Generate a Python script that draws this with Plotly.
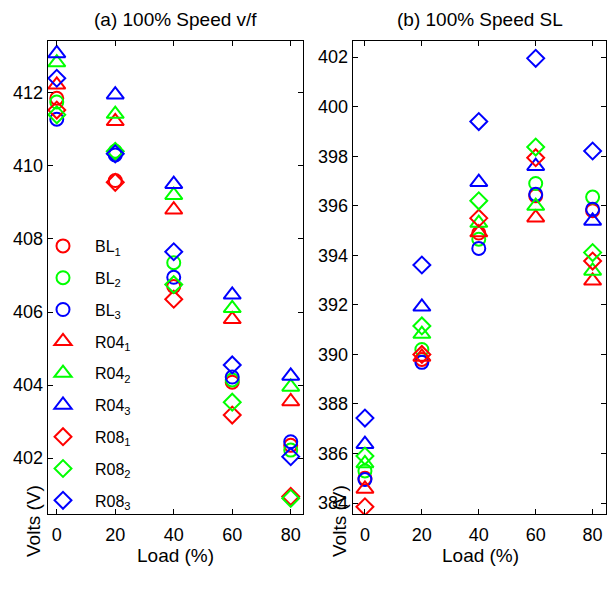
import plotly.graph_objects as go

load = [0, 20, 40, 60, 80]

# (a) 100% Speed v/f
BL1_vf = [411.85, 409.60, 406.70, 404.08, 402.35]
BL2_vf = [411.75, 410.40, 407.35, 404.14, 402.22]
BL3_vf = [411.28, 410.30, 406.95, 404.22, 402.45]
R04_1_vf = [412.22, 411.22, 408.80, 405.80, 403.55]
R04_2_vf = [412.83, 411.42, 409.20, 406.10, 403.95]
R04_3_vf = [413.08, 411.95, 409.50, 406.47, 404.25]
R08_1_vf = [411.53, 409.55, 406.35, 403.18, 400.95]
R08_2_vf = [411.40, 410.40, 406.75, 403.53, 400.90]
R08_3_vf = [412.40, 410.33, 407.65, 404.55, 402.04]

# (b) 100% Speed SL
BL1_sl = [385.00, 389.80, 394.90, 396.40, 395.80]
BL2_sl = [385.30, 390.20, 394.65, 396.90, 396.35]
BL3_sl = [384.95, 389.68, 394.28, 396.46, 395.86]
R04_1_sl = [384.57, 389.90, 394.92, 395.52, 392.97]
R04_2_sl = [385.60, 390.82, 395.30, 395.99, 393.37]
R04_3_sl = [386.38, 391.92, 396.95, 397.60, 395.39]
R08_1_sl = [383.85, 390.00, 395.50, 397.94, 393.77]
R08_2_sl = [385.90, 391.15, 396.20, 398.37, 394.11]
R08_3_sl = [387.43, 393.61, 399.40, 401.95, 398.21]

series_names = ["BL<sub>1</sub>", "BL<sub>2</sub>", "BL<sub>3</sub>",
                "R04<sub>1</sub>", "R04<sub>2</sub>", "R04<sub>3</sub>",
                "R08<sub>1</sub>", "R08<sub>2</sub>", "R08<sub>3</sub>"]
vf_values = [BL1_vf, BL2_vf, BL3_vf, R04_1_vf, R04_2_vf, R04_3_vf, R08_1_vf, R08_2_vf, R08_3_vf]
sl_values = [BL1_sl, BL2_sl, BL3_sl, R04_1_sl, R04_2_sl, R04_3_sl, R08_1_sl, R08_2_sl, R08_3_sl]

colors = ["#FF0000", "#00FF00", "#0000FF"] * 3
symbols = ["circle-open"] * 3 + ["triangle-up-open"] * 3 + ["diamond-open"] * 3
sizes = [13] * 3 + [15] * 3 + [13] * 3

FONT = "Liberation Sans, Arial, Helvetica, sans-serif"

fig = go.Figure()
for i in range(9):
    fig.add_trace(go.Scatter(
        x=load, y=vf_values[i], mode="markers", name=series_names[i],
        legendgroup=f"g{i}",
        marker=dict(symbol=symbols[i], size=sizes[i], color=colors[i],
                    line=dict(width=2, color=colors[i])),
        xaxis="x", yaxis="y", showlegend=True))
for i in range(9):
    fig.add_trace(go.Scatter(
        x=load, y=sl_values[i], mode="markers", name=series_names[i],
        legendgroup=f"g{i}",
        marker=dict(symbol=symbols[i], size=sizes[i], color=colors[i],
                    line=dict(width=2, color=colors[i])),
        xaxis="x2", yaxis="y2", showlegend=False))

W, H = 610, 596
ax_common = dict(showline=True, linecolor="black", linewidth=1, mirror="allticks",
                 ticks="inside", ticklen=5, tickcolor="black", tickwidth=1,
                 showgrid=False, zeroline=False,
                 tickfont=dict(family=FONT, size=18, color="black"))

fig.update_layout(
    width=W, height=H,
    margin=dict(l=0, r=0, t=0, b=0),
    paper_bgcolor="white", plot_bgcolor="white",
    font=dict(family=FONT, size=17, color="black"),
    xaxis=dict(domain=[47.7 / W, 303 / W], range=[-3.1, 84.2],
               tickvals=[0, 20, 40, 60, 80], anchor="y", ticklabelstandoff=4, **ax_common),
    yaxis=dict(domain=[1 - 514 / H, 1 - 41 / H], range=[400.47, 413.42],
               tickvals=[402, 404, 406, 408, 410, 412], anchor="x", **ax_common),
    xaxis2=dict(domain=[352.7 / W, 606 / W], range=[-4.3, 84.7],
                tickvals=[0, 20, 40, 60, 80], anchor="y2", ticklabelstandoff=4, **ax_common),
    yaxis2=dict(domain=[1 - 514 / H, 1 - 41 / H], range=[383.56, 402.65],
                tickvals=list(range(384, 403, 2)), anchor="x2", **ax_common),
    legend=dict(x=31 / W, y=1 - 229 / H, xanchor="left", yanchor="top",
                bgcolor="rgba(0,0,0,0)", borderwidth=0,
                font=dict(family=FONT, size=16, color="black"),
                tracegroupgap=8, itemwidth=54),
    showlegend=True,
)

annots = [
    dict(text="(a) 100% Speed v/f", x=175 / W, y=1 - 20 / H, font_size=19),
    dict(text="(b) 100% Speed SL", x=480 / W, y=1 - 20 / H, font_size=19),
    dict(text="Load (%)", x=175 / W, y=1 - 555 / H, font_size=19),
    dict(text="Load (%)", x=480 / W, y=1 - 555 / H, font_size=19),
    dict(text="Volts (V)", x=33 / W, y=1 - 521 / H, font_size=19, textangle=-90),
    dict(text="Volts (V)", x=339 / W, y=1 - 521 / H, font_size=19, textangle=-90),
]
for a in annots:
    fig.add_annotation(xref="paper", yref="paper", xanchor="center", yanchor="middle",
                       showarrow=False, text=a["text"], x=a["x"], y=a["y"],
                       textangle=a.get("textangle", 0),
                       font=dict(family=FONT, size=a["font_size"], color="black"))

fig.write_html("out.html")
